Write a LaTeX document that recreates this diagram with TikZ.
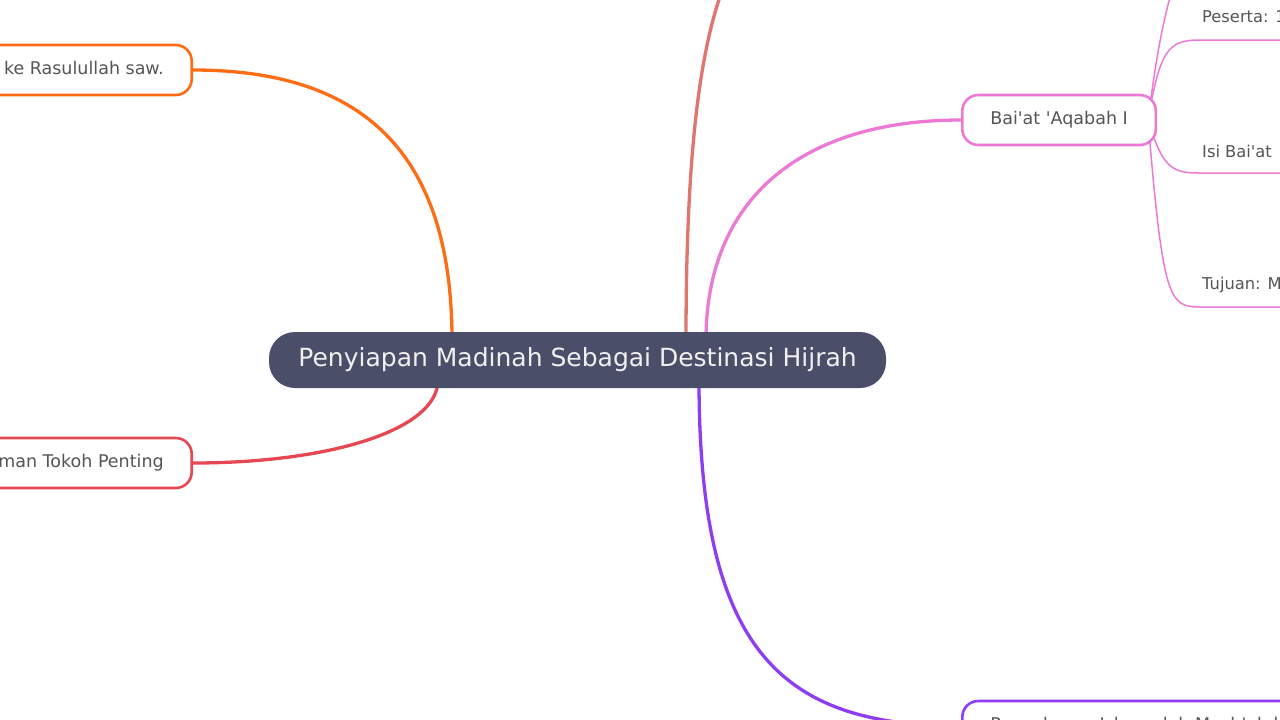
\documentclass[tikz,border=0pt]{standalone}
\usepackage{fontspec}
\defaultfontfeatures[\rmfamily]{}
\newfontfamily\dv{DejaVu Sans}
\setmainfont{DejaVu Sans}
\definecolor{cnode}{RGB}{75,78,105}
\definecolor{ctext}{RGB}{85,85,85}
\definecolor{corange}{RGB}{255,108,22}
\definecolor{cred}{RGB}{229,72,82}
\definecolor{cpink}{RGB}{236,122,212}
\definecolor{cpurple}{RGB}{141,62,242}
\definecolor{cbrown}{RGB}{222,117,110}
\tikzset{
  branch/.style={line width=3.3pt, line cap=round},
  subbranch/.style={line width=1.5pt, cpink},
  topic/.style={rounded corners=16pt, line width=2.6pt, fill=white, text=ctext,
    minimum height=50pt, inner xsep=28pt, font=\dv\fontsize{17.5}{21}\selectfont},
  leaf/.style={text=ctext, anchor=west, inner sep=0pt, font=\dv\fontsize{16.3}{20}\selectfont},
}
\begin{document}
\begin{tikzpicture}[x=1pt,y=-1pt]
\useasboundingbox (0,0) rectangle (1280,720);
\clip (0,0) rectangle (1280,720);
\fill[white] (0,0) rectangle (1280,720);

% coordinates
\coordinate (oc) at (452,340);
\coordinate (rc) at (438,380);
\coordinate (bc) at (686,340);
\coordinate (pc) at (706,340);
\coordinate (uc) at (699,380);
\coordinate (topfar) at (735,-40);
\coordinate (bs) at (1148,120);
\coordinate (subtop) at (1178,-30);
\coordinate (l1e) at (1290,40);
\coordinate (l2e) at (1290,173);
\coordinate (l3e) at (1290,307);

% topic nodes
\node[topic, draw=corange, anchor=east] (orange) at (193,70) {Kedatangan Penduduk Yatsrib ke Rasulullah saw.};
\node[topic, draw=cred, anchor=east] (red) at (193,463) {Keislaman Tokoh Penting};
\node[topic, draw=cpurple, anchor=west] (purple) at (961,726) {Penyebaran Islam oleh Mush'ab bin Umair};

% branches
\draw[branch, corange] (oc) .. controls (452,150) and (360,70) .. (orange.east);
\draw[branch, cred] (rc) .. controls (438,430) and (330,463) .. (red.east);
\draw[branch, cbrown] (bc) .. controls (686,120) and (705,20) .. (topfar);
\draw[branch, cpurple] (uc) .. controls (699,650) and (780,726) .. (purple.west);

% sub-branches of Bai'at
\draw[subbranch] (bs) .. controls (1156,60) and (1162,20) .. (subtop);
\draw[subbranch] (bs) .. controls (1160,50) and (1168,40) .. (1200,40) -- (l1e);
\draw[subbranch] (bs) .. controls (1162,165) and (1170,173) .. (1198,173) -- (l2e);
\draw[subbranch] (bs) .. controls (1163,300) and (1169,307) .. (1200,307) -- (l3e);

\node[topic, draw=cpink, anchor=west] (baiat) at (961,120) {Bai'at 'Aqabah I};
\draw[branch, cpink] (pc) .. controls (706,200) and (800,120) .. (baiat.west);

\node[leaf] (peserta) at (1202,18) {Peserta: 12 orang dari Yatsrib};
\node[leaf] (isi) at (1202,151) {Isi Bai'at};
\node[leaf] (tujuan) at (1202,285) {Tujuan: Menyebarkan Islam di Yatsrib};

% central node
\node[fill=cnode, rounded corners=26pt, minimum height=56pt, minimum width=617pt,
  text=white!94!black, font=\dv\fontsize{25}{30}\selectfont] (center) at (577.5,360)
  {Penyiapan Madinah Sebagai Destinasi Hijrah};
\end{tikzpicture}
\end{document}
